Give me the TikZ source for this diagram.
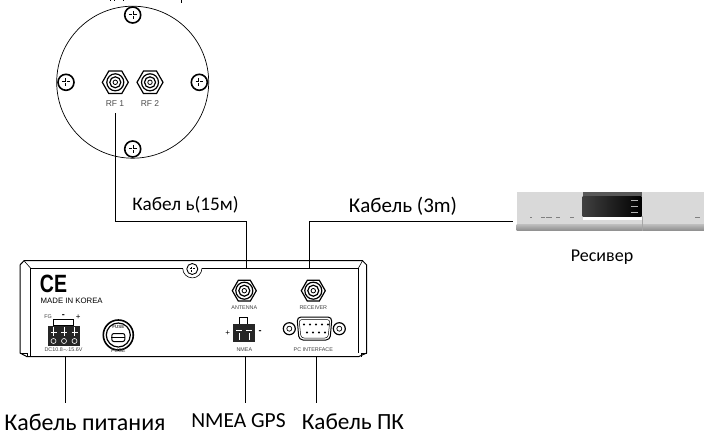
\documentclass[tikz,border=0pt]{standalone}
\usepackage{fontspec}
\setmainfont{Carlito}
\newfontfamily\panelfont{Liberation Sans}
\usetikzlibrary{shapes.geometric,positioning,calc,backgrounds}
\tikzset{
  etiq/.style={font=\fontsize{24}{26}\selectfont, inner sep=0pt},
  etiqs/.style={font=\fontsize{19.2}{21}\selectfont, inner sep=0pt},
  marca/.style={font=\panelfont\fontsize{5.4}{6}\selectfont, text=black!75, inner sep=0pt},
  rflabel/.style={font=\panelfont\fontsize{8.5}{9}\selectfont, text=black!70, inner sep=0pt},
  signo/.style={font=\panelfont\fontsize{8}{8}\selectfont, inner sep=0pt},
  cable/.style={line width=0.9pt},
  guia/.style={line width=0.6pt},
  tornillo/.style={circle, draw, line width=1.6pt, fill=white, minimum size=16pt, inner sep=0pt},
  hexa/.style={regular polygon, regular polygon sides=6, draw, line width=1.2pt, fill=white, minimum size=26pt, inner sep=0pt},
  anillo/.style={circle, draw, line width=0.7pt, inner sep=0pt}
}
\newcommand{\cruz}[2]{\draw[line width=2.2pt] ($(#1)+(-#2,0)$) -- ($(#1)+(#2,0)$) ($(#1)+(0,-#2)$) -- ($(#1)+(0,#2)$);
  \draw[white,line width=0.8pt] ($(#1)+(-#2,0)$) -- ($(#1)+(#2,0)$) ($(#1)+(0,-#2)$) -- ($(#1)+(0,#2)$);}
\newcommand{\bnc}[1]{\node[anillo,minimum size=17pt,line width=1.2pt] at (#1) {}; \node[anillo,minimum size=11pt,line width=1.2pt] at (#1) {}; \node[anillo,minimum size=4.5pt,line width=0.8pt] at (#1) {};}

\begin{document}
\begin{tikzpicture}[x=1pt,y=-1pt]
\useasboundingbox (0,0) rectangle (704,436);

% antenna
\draw[line width=1pt] (110.7,0) -- (110.7,1) (114.3,0) -- (114.3,1) (123.3,0) -- (123.3,1);
\draw[line width=1.2pt] (181.7,0) -- (181.7,2.6);
\node[circle,draw,line width=0.7pt,minimum size=152pt,inner sep=0pt] (base) at (132.7,82.2) {};
\foreach \n/\x/\y in {sup/132.7/15, izq/66/82.3, der/199.3/82.3, inf/132.7/149}{
  \node[tornillo] (t\n) at (\x,\y) {};
  \cruz{t\n}{3.8}
}
\node[hexa] (rfa) at (115.3,82.3) {}; \bnc{rfa}
\node[hexa] (rfb) at (150,82.3) {}; \bnc{rfb}
\node[rflabel] (rfaL) at (115,104) {RF 1};
\node[rflabel] (rfbL) at (150,104) {RF 2};

% panel
\draw[line width=1pt] (20,265) -- (24,260.7) -- (362.5,260.7) -- (366.7,265) -- (366.7,353) -- (358.5,356.7) -- (27,356.7) -- (20,353) -- cycle;
\draw[line width=0.9pt] (30.7,356.7) -- (30.7,268.3) -- (182.7,268.3) (202,268.3) -- (358.3,268.3) -- (358.3,353);
\draw[line width=0.6pt] (24,260.7) -- (30.7,268.3) (362.5,260.7) -- (358.3,268.3);
\draw[line width=0.6pt] (20,353) -- (27,353) -- (27,356.7) (366.7,353) -- (361,353) -- (361,356.7);

\draw[line width=0.6pt] (182.7,268.3) arc (180:360:9.6 and -9.6);
\node[tornillo,minimum size=11pt,line width=0.9pt] (tpanel) at (192.3,269) {};
\cruz{tpanel}{2.5}

\node[inner sep=0pt,font=\panelfont\bfseries\fontsize{25}{25}\selectfont] (ce) at (53.5,284) {\scalebox{0.78}[1]{CE}};
\node[font=\panelfont\fontsize{7.8}{8}\selectfont,inner sep=0pt] (made) at (71.7,300.5) {MADE IN KOREA};

% power terminal
\node[draw,line width=0.6pt,minimum width=20pt,minimum height=6pt,inner sep=0pt] (bornat) at (63,322.5) {};
\node[fill=black!85,minimum width=32pt,minimum height=20pt,inner sep=0pt] (borne) at (63.8,335.5) {};
\foreach \x in {53.5,64,74.5}{
  \node[circle,draw=white,line width=0.6pt,minimum size=5pt,inner sep=0pt] at (\x,341) {};
  \draw[white,line width=0.6pt] (\x,327) -- (\x,336);
  \draw[white,line width=0.6pt] (\x-3,332) -- (\x+3,332);
}
\node[marca] (fg) at (48,317) {FG};
\node[signo,font=\panelfont\bfseries\fontsize{9}{9}\selectfont] (fgm) at (63.3,316) {-};
\node[signo] (fgp) at (78.3,317) {+};
\node[marca] (dc) at (63.5,349.5) {DC10.8$\sim$15.6V};

% fuse
\node[circle,draw,line width=1.6pt,minimum size=30pt,inner sep=0pt] (fusible) at (118.3,335) {};
\node[circle,draw,line width=1.2pt,minimum size=24pt,inner sep=0pt] at (fusible) {};
\node[draw,rounded corners=2pt,line width=1pt,minimum width=13pt,minimum height=8pt,inner sep=0pt] (lente) at (118.3,337.5) {};
\draw[line width=0.8pt] (lente.west) -- (lente.east);
\node[marca,font=\panelfont\bfseries\fontsize{4.5}{5}\selectfont] (fusein) at (118.3,326.5) {FUSE};
\node[marca] (fuse) at (118.3,350.5) {FUSE};

% rear connectors
\node[hexa,minimum size=24pt] (ant) at (244.3,290.7) {}; \bnc{ant}
\node[hexa,minimum size=24pt] (rec) at (313.3,290.7) {}; \bnc{rec}
\node[marca] (antL) at (244.3,308) {ANTENNA};
\node[marca] (recL) at (313.3,308) {RECEIVER};

% nmea
\node[draw,line width=0.6pt,minimum width=8pt,minimum height=7pt,inner sep=0pt] (nmeat) at (243.3,321) {};
\node[fill=black!85,minimum width=22pt,minimum height=18pt,inner sep=0pt] (nmeab) at (244,333) {};
\foreach \x in {239,249}{
  \draw[white,line width=0.8pt] (\x-3,330) -- (\x+3,330) (\x,333) -- (\x,340);
}
\node[signo] (nmeap) at (227.7,333) {+};
\node[signo,font=\panelfont\bfseries\fontsize{9}{9}\selectfont] (nmeam) at (260,332) {-};
\node[marca] (nmea) at (244.3,350) {NMEA};

% db9
\node[anillo,line width=1.2pt,minimum size=12pt] (orejai) at (289.3,328.7) {};
\node[anillo,minimum size=5pt] at (orejai) {};
\node[anillo,line width=1.2pt,minimum size=12pt] (orejad) at (339.3,328.7) {};
\node[anillo,minimum size=5pt] at (orejad) {};
\draw[line width=1pt,rounded corners=4pt] (297,317) -- (332,317) -- (330,340) -- (299,340) -- cycle;
\draw[line width=0.5pt,rounded corners=3pt] (299,319.5) -- (330,319.5) -- (328,338) -- (301,338) -- cycle;
\foreach \x in {304,310,316,322,328}{ \fill (\x,324.5) circle (1.2pt); }
\foreach \x in {307,313,319,325}{ \fill (\x,332.5) circle (1.2pt); }
\node[marca] (pc) at (313.3,350) {PC INTERFACE};

% bottom labels
\node[etiq] (l1) at (85,422) {Кабель питания};
\node[etiq,font=\fontsize{21.5}{23}\selectfont] (l2) at (238.5,421) {NMEA GPS};
\node[etiq,font=\fontsize{23.2}{25}\selectfont] (l3) at (353,422) {Кабель ПК};
\coordinate (g1) at (65.7,403);
\coordinate (g2) at (245,403);
\coordinate (g3) at (316.7,403);
\coordinate (p1) at (65.7,356.7);
\coordinate (p2) at (245,356.7);
\coordinate (p3) at (316.7,356.7);
\draw[guia] (p1) -- (g1);
\draw[guia] (p2) -- (g2);
\draw[guia] (p3) -- (g3);

% cables
\coordinate (c1) at (115,113);
\coordinate (c2) at (246.7,268);
\coordinate (c3) at (309,268);
\coordinate (c4) at (513,221.7);
\draw[cable] (c1) |- (c2 |- c4) -- (c2);
\draw[cable] (c3) -- (c3 |- c4) -- (c4);
\node[etiqs] (k1) at (185.5,204.5) {Кабел ь(15м)};
\node[etiqs,font=\fontsize{21}{23}\selectfont] (k2) at (403,206) {Кабель (3m)};

% receiver
\fill[black!15] (516.7,192) rectangle (704,224);
\shade[top color=black!25,bottom color=black!45] (516.7,224) rectangle (704,230.7);
\fill[white] (582.7,216) rectangle (641.7,220);
\fill[black!65] (582.7,192) rectangle (641.7,196);
\shade[left color=black!75,right color=black] (582.7,196) rectangle (641.7,216);
\foreach \y in {200,206,212}{ \fill[white!70!black] (631,\y) rectangle (638,\y+1); }
\draw[black!35,line width=0.6pt] (642.2,216) -- (642.2,230.7);
\foreach \x/\w in {530/1.5,541/4,546/6,556/4,570/4,695/5}{
  \fill[black!50] (\x,216.5) rectangle (\x+\w,217.5);
}
\node[etiqs,font=\fontsize{18}{20}\selectfont] (resL) at (602,257) {Ресивер};
\end{tikzpicture}
\end{document}
